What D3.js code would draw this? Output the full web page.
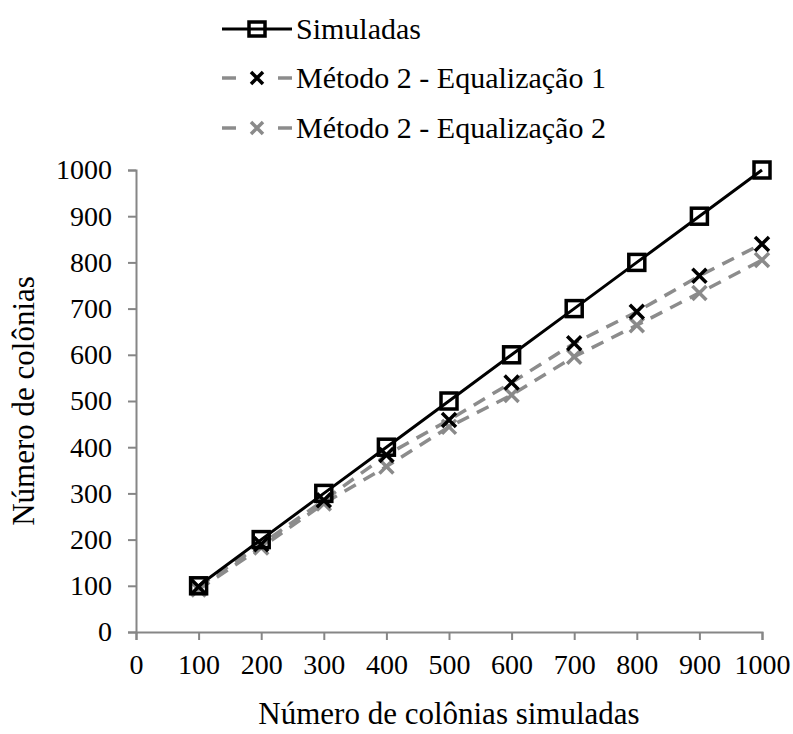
<!DOCTYPE html>
<html>
<head>
<meta charset="utf-8">
<script src="https://cdn.jsdelivr.net/npm/d3@7"></script>
</head>
<body style="margin:0;background:#fff">
<svg id="chart" width="793" height="734" style="display:block"></svg>
<script>
// Number of colonies simulated vs. counted by each method
const simulated = [100, 200, 300, 400, 500, 600, 700, 800, 900, 1000];
const simuladas = [100, 200, 300, 400, 500, 600, 700, 800, 900, 1000];
const eq1 = [98, 190, 285, 383, 459, 540, 625, 693, 771, 840];
const eq2 = [92, 183, 278, 358, 444, 513, 596, 664, 734, 805];
const xTicks = [0, 100, 200, 300, 400, 500, 600, 700, 800, 900, 1000];
const yTicks = [0, 100, 200, 300, 400, 500, 600, 700, 800, 900, 1000];
const seriesNames = ["Simuladas", "Método 2 - Equalização 1", "Método 2 - Equalização 2"];

const FONT = '"Liberation Serif", "Times New Roman", serif';
const svg = d3.select("#chart");
const x = d3.scaleLinear().domain([0, 1000]).range([136, 762]);
const y = d3.scaleLinear().domain([0, 1000]).range([632, 170]);
const axisColor = "#868686";
const grey = "#8c8c8c";

// Axes
const xAxis = svg.append("g").attr("transform", `translate(0,${y(0)})`)
  .call(d3.axisBottom(x).tickValues(xTicks).tickSize(8).tickPadding(14).tickFormat(d3.format("d")));
const yAxis = svg.append("g").attr("transform", `translate(${x(0)},0)`)
  .call(d3.axisLeft(y).tickValues(yTicks).tickSize(8).tickPadding(16).tickFormat(d3.format("d")));
[xAxis, yAxis].forEach(g => {
  g.attr("font-family", null).attr("font-size", null);
  g.selectAll("path.domain").attr("stroke", axisColor).attr("stroke-width", 2);
  g.selectAll(".tick line").attr("stroke", axisColor).attr("stroke-width", 2);
  g.selectAll(".tick text").style("font-family", FONT).style("font-size", "28px").attr("fill", "#000");
});

// Axis titles
svg.append("text").attr("x", 449).attr("y", 724).attr("text-anchor", "middle")
  .style("font-family", FONT).style("font-size", "31px").text("Número de colônias simuladas");
svg.append("text").attr("transform", `translate(34,${(y(0) + y(1000)) / 2}) rotate(-90)`)
  .attr("text-anchor", "middle").style("font-family", FONT).style("font-size", "31px")
  .text("Número de colônias");

const line = d3.line().x(d => x(d[0])).y(d => y(d[1]));
const zip = vals => simulated.map((s, i) => [s, vals[i]]);

// Dashed method lines
function dashed(vals) {
  svg.append("path").datum(zip(vals)).attr("d", line)
    .attr("fill", "none").attr("stroke", grey).attr("stroke-width", 3.5)
    .attr("stroke-dasharray", "13,9");
}
dashed(eq2);
dashed(eq1);

function crosses(vals, color) {
  svg.append("g").selectAll("path").data(zip(vals)).join("path")
    .attr("transform", d => `translate(${x(d[0])},${y(d[1])})`)
    .attr("d", "M-7,-7L7,7M-7,7L7,-7")
    .attr("stroke", color).attr("stroke-width", 3.5).attr("fill", "none");
}
crosses(eq2, "#8a8a8a");
crosses(eq1, "#000");

// Simulated series
svg.append("path").datum(zip(simuladas)).attr("d", line)
  .attr("fill", "none").attr("stroke", "#000").attr("stroke-width", 3);
svg.append("g").selectAll("rect").data(zip(simuladas)).join("rect")
  .attr("x", d => x(d[0]) - 8).attr("y", d => y(d[1]) - 8)
  .attr("width", 16).attr("height", 16)
  .attr("fill", "none").attr("stroke", "#000").attr("stroke-width", 3.5);

// Legend
const legY = [29, 78, 128];
const lg = svg.append("g");
lg.append("line").attr("x1", 222).attr("x2", 292).attr("y1", legY[0]).attr("y2", legY[0])
  .attr("stroke", "#000").attr("stroke-width", 3);
lg.append("rect").attr("x", 249).attr("y", legY[0] - 7).attr("width", 16).attr("height", 14)
  .attr("fill", "#fff").attr("stroke", "#000").attr("stroke-width", 3.5);
lg.append("line").attr("x1", 249).attr("x2", 265).attr("y1", legY[0]).attr("y2", legY[0])
  .attr("stroke", "#000").attr("stroke-width", 3);
[[legY[1], "#000"], [legY[2], "#8a8a8a"]].forEach(([ly, c]) => {
  lg.append("line").attr("x1", 222).attr("x2", 236).attr("y1", ly).attr("y2", ly)
    .attr("stroke", grey).attr("stroke-width", 3.5);
  lg.append("line").attr("x1", 278).attr("x2", 292).attr("y1", ly).attr("y2", ly)
    .attr("stroke", grey).attr("stroke-width", 3.5);
  lg.append("path").attr("transform", `translate(257,${ly})`)
    .attr("d", "M-6,-6L6,6M-6,6L6,-6").attr("stroke", c).attr("stroke-width", 3.5);
});
seriesNames.forEach((n, i) => {
  lg.append("text").attr("x", 296).attr("y", legY[i] + 10)
    .style("font-family", FONT).style("font-size", "30px").text(n);
});
</script>
</body>
</html>
